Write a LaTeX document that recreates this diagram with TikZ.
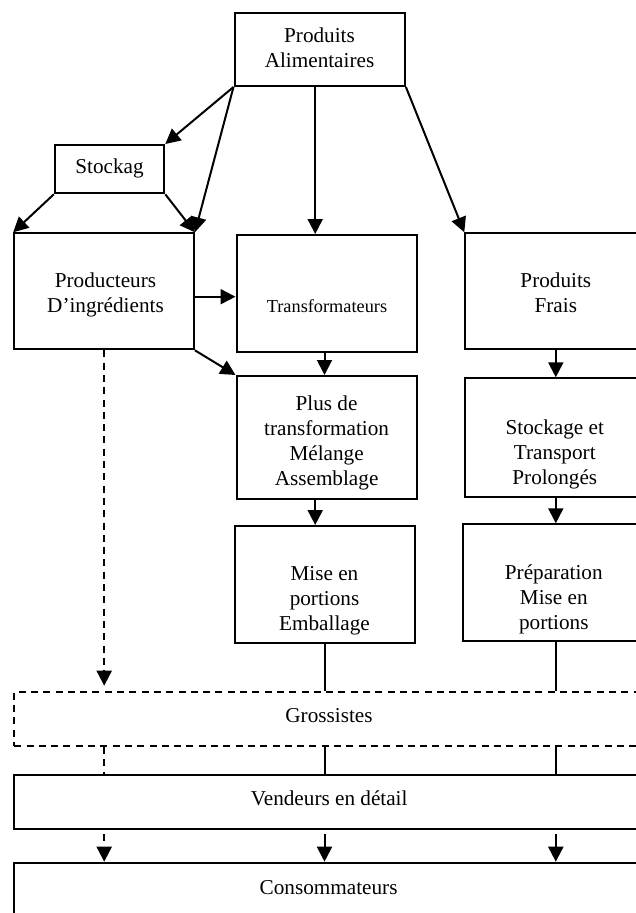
\documentclass[tikz,border=0pt]{standalone}
\usepackage{fontspec}
\setmainfont{Liberation Serif}
\usetikzlibrary{arrows.meta,fit,calc}
\begin{document}
\begin{tikzpicture}[x=1pt,y=-1pt,
 boxst/.style={draw,line width=2pt,inner sep=0pt,rectangle},
 dsh/.style={dash pattern=on 7pt off 5.3pt},
 dbox/.style={boxst,dsh},
 txt/.style={font=\fontsize{21.2}{25}\selectfont,align=center,anchor=base,inner sep=0pt},
 arr/.style={line width=2pt,-{Triangle[width=15pt,length=15pt]}},
 ln/.style={line width=2pt}]
\useasboundingbox (0,0) rectangle (636,913);
\clip (0,0) rectangle (636,913);
% boxes
\node[boxst,fit={(234.5,13.3)(404.9,86)}] (pa) {};
\node[boxst,fit={(54.8,145)(164.3,193.3)}] (stk) {};
\node[boxst,fit={(14.2,233.3)(193.9,349.3)}] (prod) {};
\node[boxst,fit={(236.5,235)(417,352.3)}] (trans) {};
\node[boxst,fit={(465.3,233.3)(700,349.3)}] (pf) {};
\node[boxst,fit={(236.5,376)(417,499)}] (plus) {};
\node[boxst,fit={(465.3,378.3)(700,496.7)}] (stock2) {};
\node[boxst,fit={(234.5,526)(415,643.3)}] (mise) {};
\node[boxst,fit={(463.3,524.3)(700,641)}] (prep) {};
\node[dbox,fit={(14.2,691.7)(700,746)}] (gros) {};
\node[boxst,fit={(14.2,775)(700,829.3)}] (vend) {};
\node[boxst,fit={(14.2,862.7)(700,1000)}] (cons) {};
% texts (anchor = baseline of the last line)
\node[txt] (tpa) at (319.5,67.5) {Produits\\Alimentaires};
\node[txt] (tstk) at (109.5,173.5) {Stockag};
\node[txt] (tprod) at (105.5,312.5) {Producteurs\\D’ingrédients};
\node[txt,font=\fontsize{18.3}{22}\selectfont] (ttr) at (327,312) {Transformateurs};
\node[txt] (tpf) at (555.8,312.5) {Produits\\Frais};
\node[txt] (tplus) at (326.6,485) {Plus de\\transformation\\Mélange\\Assemblage};
\node[txt] (tst2) at (554.8,484) {Stockage et\\Transport\\Prolongés};
\node[txt] (tmise) at (324.5,630.5) {Mise en\\portions\\Emballage};
\node[txt] (tprep) at (553.8,629.5) {Préparation\\Mise en\\portions};
\node[txt] (tgro) at (329,722.3) {Grossistes};
\node[txt] (tven) at (329.2,805.7) {Vendeurs en détail};
\node[txt] (tcon) at (328.6,894) {Consommateurs};
% column coordinates
\coordinate (lc) at (104.2,0);
\coordinate (mc) at (324.5,0);
\coordinate (mc2) at (315.2,0);
\coordinate (rc) at (555.8,0);
\coordinate (py) at (0,296.7);
% connectors
\draw[arr] (pa.south west) -- (stk.north east);
\draw[arr] (pa.south west) -- (prod.north east);
\draw[arr] (pa.south -| mc2) -- (trans.north -| mc2);
\draw[arr] (pa.south east) -- (pf.north west);
\draw[arr] (stk.south west) -- (prod.north west);
\draw[arr] (stk.south east) -- (prod.north east);
\draw[arr] (prod.east |- py) -- (trans.west |- py);
\draw[arr] (prod.south east) -- (plus.north west);
\draw[arr] (trans.south -| mc) -- (plus.north -| mc);
\draw[arr] (plus.south -| mc2) -- (mise.north -| mc2);
\draw[arr] (pf.south -| rc) -- (stock2.north -| rc);
\draw[arr] (stock2.south -| rc) -- (prep.north -| rc);
\draw[ln] (mise.south -| mc) -- (gros.north -| mc);
\draw[ln] (prep.south -| rc) -- (gros.north -| rc);
\coordinate (gt) at ([yshift=5pt]gros.north);
\draw[arr,dsh] (prod.south -| lc) -- (gt -| lc);
\draw[ln,dsh] (gros.south -| lc) -- (vend.north -| lc);
\draw[ln] (gros.south -| mc) -- (vend.north -| mc);
\draw[ln] (gros.south -| rc) -- (vend.north -| rc);
\coordinate (vb) at ([yshift=-4pt]vend.south);
\draw[arr,dsh] (vb -| lc) -- (cons.north -| lc);
\draw[arr] (vb -| mc) -- (cons.north -| mc);
\draw[arr] (vb -| rc) -- (cons.north -| rc);
\end{tikzpicture}
\end{document}
